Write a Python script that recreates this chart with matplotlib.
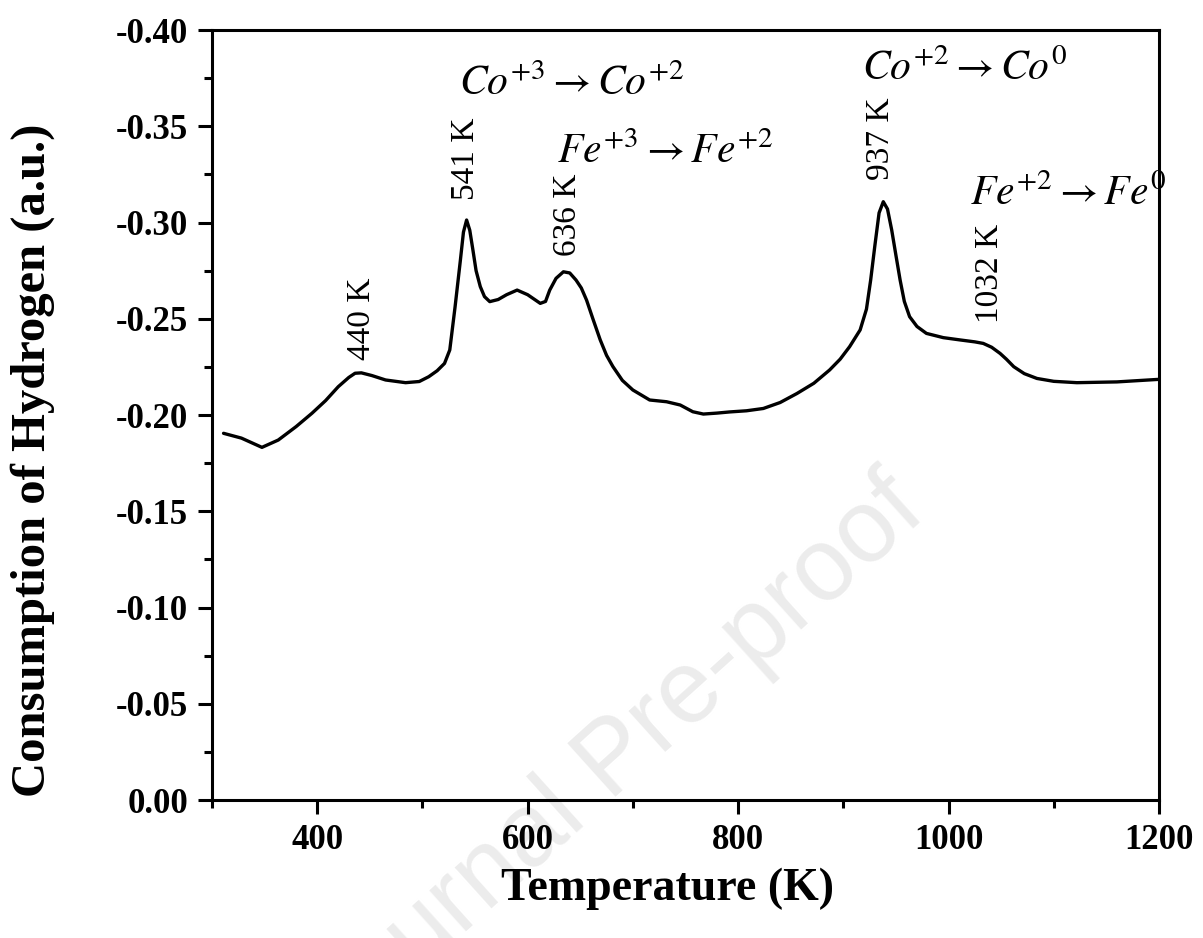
import numpy as np
import matplotlib
matplotlib.use("Agg")
import matplotlib.pyplot as plt
from matplotlib.ticker import MultipleLocator, FormatStrFormatter

plt.rcParams['font.family'] = ['Liberation Serif', 'DejaVu Serif']
plt.rcParams['mathtext.fontset'] = 'stix'

# TPR profile (temperature in K, H2 consumption in a.u.)
temperature = [311, 328, 347.5, 363, 380, 395, 408, 420, 430, 436, 442, 452, 465,
               484, 497, 506, 514, 521, 526, 531, 536, 539, 542, 545, 548, 551,
               555, 559, 564, 572, 580, 590, 600, 612, 617, 621, 627, 634, 640,
               646, 651, 656, 662, 669, 675, 681, 690, 700, 716, 732, 745, 757,
               767, 780, 792, 808, 824, 840, 856, 872, 887, 897, 906, 916, 922,
               926, 930, 934, 938, 942, 946, 950, 954, 958, 963, 970, 979, 995,
               1011, 1025, 1033, 1041, 1049, 1055, 1062, 1072, 1084, 1100, 1122,
               1160, 1199]
consumption = [-0.1905, -0.1880, -0.1832, -0.1870, -0.1940, -0.2009, -0.2075,
               -0.2147, -0.2195, -0.2217, -0.2219, -0.2205, -0.2182, -0.2168,
               -0.2174, -0.2199, -0.2230, -0.2268, -0.2338, -0.2560, -0.2800,
               -0.2950, -0.3013, -0.2960, -0.2857, -0.2750, -0.2667, -0.2615,
               -0.2589, -0.2600, -0.2625, -0.2649, -0.2625, -0.2580, -0.2590,
               -0.2649, -0.2710, -0.2744, -0.2738, -0.2701, -0.2660, -0.2597,
               -0.2500, -0.2390, -0.2310, -0.2252, -0.2180, -0.2130, -0.2078,
               -0.2069, -0.2052, -0.2017, -0.2005, -0.2010, -0.2016, -0.2022,
               -0.2034, -0.2065, -0.2112, -0.2165, -0.2234, -0.2290, -0.2355,
               -0.2442, -0.2550, -0.2701, -0.2880, -0.3050, -0.3108, -0.3070,
               -0.2961, -0.2830, -0.2701, -0.2590, -0.2511, -0.2460, -0.2424,
               -0.2402, -0.2390, -0.2380, -0.2372, -0.2352, -0.2320, -0.2290,
               -0.2251, -0.2215, -0.2190, -0.2175, -0.2168, -0.2172, -0.2185]

peak_labels = ['440 K', '541 K', '636 K', '937 K', '1032 K']
peak_x = [442, 541, 638, 936, 1039]
peak_y = [-0.2286, -0.3117, -0.2826, -0.3220, -0.2480]

reactions = [r'$Co^{+3}\rightarrow Co^{+2}$', r'$Fe^{+3}\rightarrow Fe^{+2}$',
             r'$Co^{+2}\rightarrow Co^{0}$', r'$Fe^{+2}\rightarrow Fe^{0}$']
reaction_x = [535, 628, 918, 1020]
reaction_y = [-0.366, -0.331, -0.374, -0.309]

fig = plt.figure(figsize=(12.03, 9.38), dpi=100)
ax = fig.add_axes([0.1762, 0.1471, 0.7872, 0.8209])
ax.patch.set_alpha(0)

# watermark
fig.text(0.772, 0.451, 'Journal Pre-proof', family='Liberation Sans', fontsize=74,
         color='#ececec', rotation=42, ha='right', va='baseline',
         rotation_mode='anchor', zorder=-1)

ax.plot(temperature, consumption, color='black', lw=2.4,
        solid_joinstyle='round', solid_capstyle='round')

for lab, x, y in zip(peak_labels, peak_x, peak_y):
    ax.text(x, y, lab, rotation=90, ha='center', va='bottom', fontsize=24)

for lab, x, y in zip(reactions, reaction_x, reaction_y):
    ax.text(x, y, lab, ha='left', va='baseline', fontsize=30)

ax.set_xlim(300, 1200)
ax.set_ylim(0, -0.40)
ax.xaxis.set_major_locator(MultipleLocator(200))
ax.xaxis.set_minor_locator(MultipleLocator(100))
ax.yaxis.set_major_locator(MultipleLocator(0.05))
ax.yaxis.set_minor_locator(MultipleLocator(0.025))
ax.yaxis.set_major_formatter(FormatStrFormatter('%.2f'))

for s in ax.spines.values():
    s.set_linewidth(2.2)
ax.tick_params(which='major', direction='out', length=10, width=2.2, pad=7,
               labelsize=25, top=False, right=False)
ax.tick_params(which='minor', direction='out', length=5.5, width=2.2,
               top=False, right=False)
for lbl in ax.get_xticklabels() + ax.get_yticklabels():
    lbl.set_fontweight('bold')

ax.set_xlabel('Temperature (K)', fontsize=33, fontweight='bold')
ax.set_ylabel('Consumption of Hydrogen (a.u.)', fontsize=35, fontweight='bold')
ax.xaxis.set_label_coords(0.4805, -0.088)
ax.yaxis.set_label_coords(-0.166, 0.4416)

fig.savefig('out.png', dpi=100)
